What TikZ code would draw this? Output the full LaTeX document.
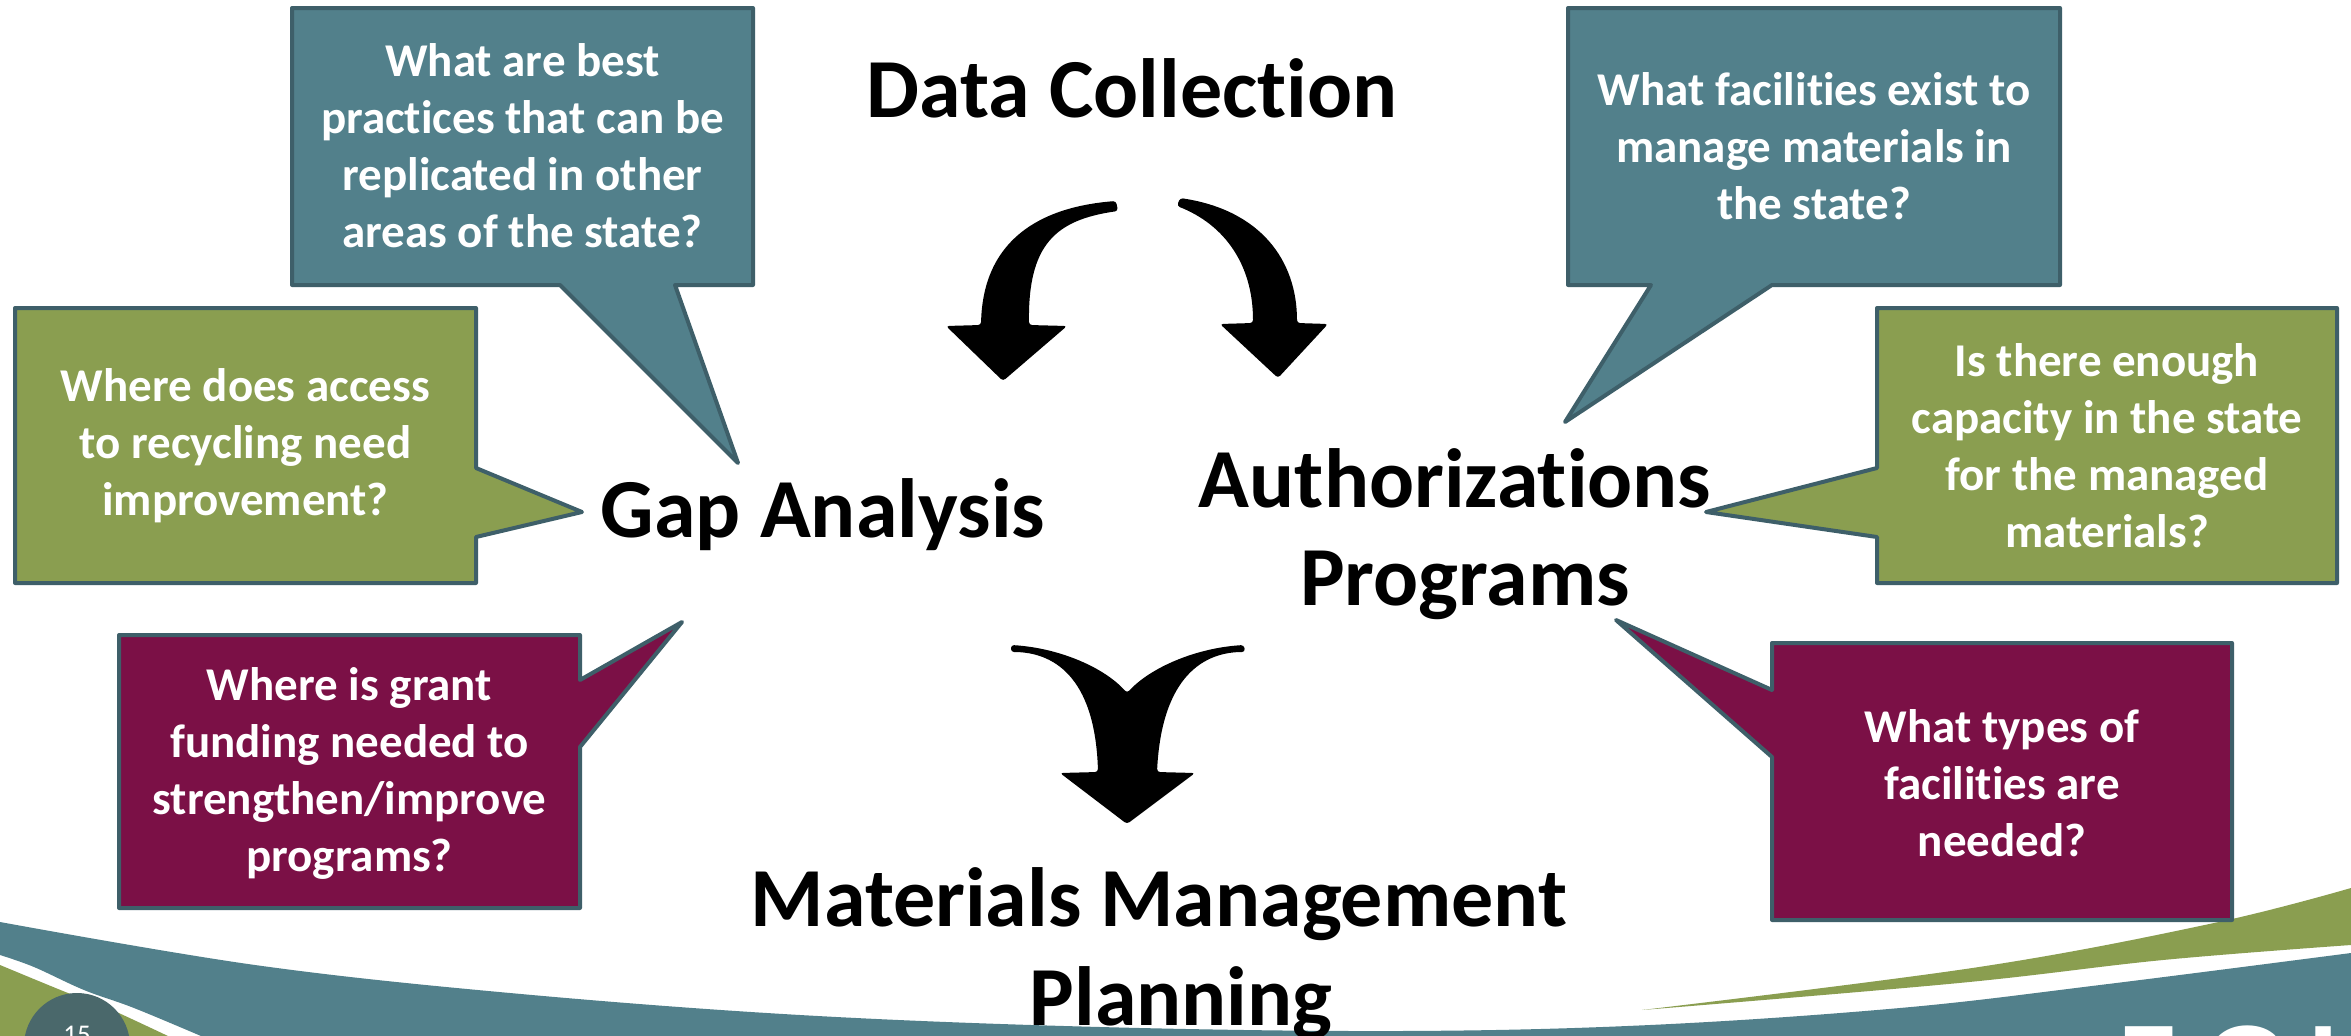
\documentclass[tikz,border=0pt]{standalone}
\usepackage{fontspec}
\setmainfont{Carlito}[Ligatures={NoCommon}]
\definecolor{cTeal}{HTML}{52808B}
\definecolor{cGreen}{HTML}{8A9E50}
\definecolor{cMaroon}{HTML}{7B1046}
\definecolor{cEdge}{HTML}{3E5F69}
\definecolor{cCircle}{HTML}{4A686B}
\begin{document}
\begin{tikzpicture}[x=1pt,y=-1pt,
  callout/.style={draw=cEdge,line width=4pt,line join=round},
  qtext/.style={text=white,font=\fontsize{47}{57}\selectfont\bfseries,align=center,inner sep=0pt},
  big/.style={font=\fontsize{84}{98}\selectfont\bfseries,inner sep=0pt,anchor=base},
  blockarrow/.style={fill=black,rounded corners=3pt}]
\useasboundingbox (0,0) rectangle (2351,1036);
\fill[white] (0,0) rectangle (2351,1036);
% bottom swoosh
\begin{scope}
\clip (0,0) rectangle (2351,1036);
\fill[cTeal] plot[smooth,tension=0.6] coordinates {(0,922) (255,965) (510,993) (800,1015) (1100,1027) (1400,1031) (1650,1025) (1900,1008) (2100,985) (2351,953)}
  -- (2351,1040) -- (205,1040)
  -- plot[smooth,tension=0.6] coordinates {(201,1036) (134,1008) (84,990) (34,967) (0,955)} -- cycle;
\fill[cGreen] plot[smooth,tension=0.6] coordinates {(0,965) (68,993) (101,1005) (168,1036)} -- (168,1040) -- (0,1040) -- cycle;
\fill[cGreen] plot[smooth,tension=0.6] coordinates {(1642,1010) (1979,967) (2214,923) (2351,888)}
  -- plot[smooth,tension=0.6] coordinates {(2351,945) (2163,960) (1959,983) (1642,1010)} -- cycle;
\fill[cCircle] (77,1046) circle (53);
\node[text=white,font=\fontsize{27}{30}\selectfont,anchor=base,inner sep=0pt] (pg) at (77,1043) {15};
\node[text=white,font=\fontsize{120}{120}\selectfont\bfseries,anchor=base west,inner sep=0pt] (logo) at (2118,1104) {E\hspace{28pt}G\hspace{28pt}L\hspace{28pt}E};
\end{scope}
% callouts
\fill[cTeal,callout] (292,8) -- (753,8) -- (753,285) -- (675,285) -- (738,463) -- (560,285) -- (292,285) -- cycle;
\node[qtext] (q1) at (522.5,146) {What are best\\practices that can be\\replicated in other\\areas of the state?};
\fill[cTeal,callout] (1568,8) -- (2060,8) -- (2060,285) -- (1772,285) -- (1565,422) -- (1651,285) -- (1568,285) -- cycle;
\node[qtext] (q2) at (1814,146) {What facilities exist to\\manage materials in\\the state?};
\fill[cGreen,callout] (15,308) -- (476,308) -- (476,468) -- (582,512) -- (476,537) -- (476,583) -- (15,583) -- cycle;
\node[qtext] (q3) at (245.5,445.5) {Where does access\\to recycling need\\improvement?};
\fill[cGreen,callout] (1877,308) -- (2337,308) -- (2337,583) -- (1877,583) -- (1877,537) -- (1706,512) -- (1877,468) -- cycle;
\node[qtext] (q4) at (2107,445.5) {Is there enough\\capacity in the state\\for the managed\\materials?};
\fill[cMaroon,callout] (119,635) -- (580,635) -- (580,680) -- (682,622) -- (580,747) -- (580,908) -- (119,908) -- cycle;
\node[qtext] (q5) at (349.5,773) {Where is grant\\funding needed to\\strengthen/improve\\programs?};
\fill[cMaroon,callout] (1772,643) -- (2232,643) -- (2232,920) -- (1772,920) -- (1772,757) -- (1616,620) -- (1772,690) -- cycle;
\node[qtext] (q6) at (2002,783) {What types of\\facilities are\\needed?};
% main labels
\node[big] (dc) at (1132,117) {Data Collection};
\node[big] (gap) at (823,537) {Gap Analysis};
\node[big] (auth) at (1455,507) {Authorizations};
\node[big] (prog) at (1465,605) {Programs};
\node[big] (mm) at (1159,926) {Materials Management};
\node[big] (plan) at (1181,1025) {Planning};
% block arrows
\fill[blockarrow] (1116,201) .. controls (1040,207) and (983,240) .. (981,325) -- (946,326) -- (1003,381) -- (1067,326) -- (1029,325) .. controls (1028,245) and (1055,220) .. (1118,211) -- cycle;
\fill[blockarrow] (1180,198) .. controls (1260,210) and (1297,260) .. (1297,323) -- (1328,324) -- (1278,378) -- (1220,324) -- (1253,323) .. controls (1253,265) and (1225,225) .. (1177,206) -- cycle;
\fill[blockarrow] (1011,645) .. controls (1060,648) and (1105,668) .. (1127,693) .. controls (1150,668) and (1195,648) .. (1244,645) -- (1245,652) .. controls (1205,652) and (1162,675) .. (1157,772) -- (1195,773) -- (1127,824) -- (1060,773) -- (1098,772) .. controls (1095,675) and (1052,652) .. (1011,652) -- cycle;
\end{tikzpicture}
\end{document}
